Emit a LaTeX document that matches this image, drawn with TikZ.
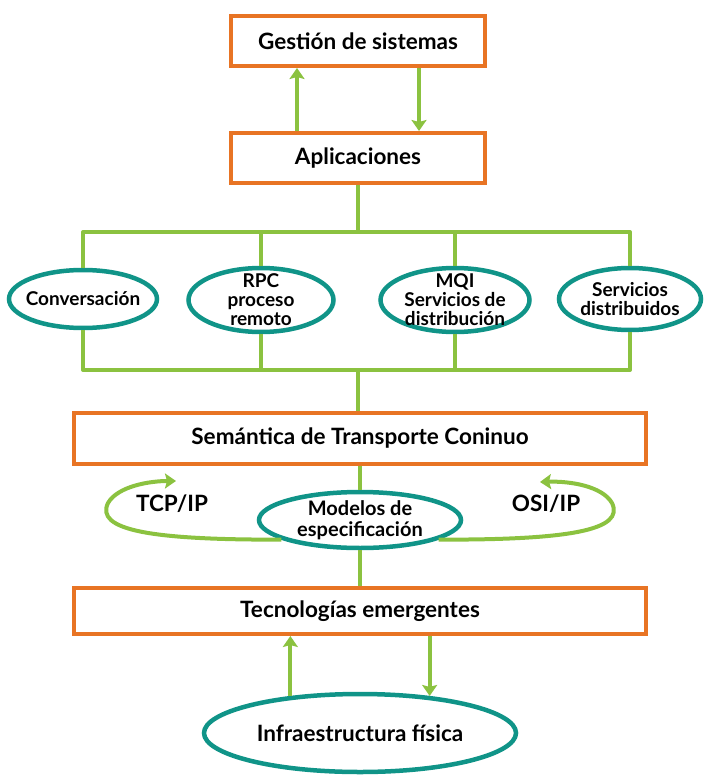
\documentclass[tikz,border=0pt]{standalone}
\usepackage{fontspec}
\setmainfont{Lato}
\definecolor{boxorange}{RGB}{232, 116, 36}
\definecolor{linkgreen}{RGB}{139, 194, 64}
\definecolor{ovalteal}{RGB}{16, 148, 136}
\usetikzlibrary{shapes.geometric, arrows.meta}

\tikzset{
  bigfont/.style={font=\fontsize{22.5}{26}\selectfont\bfseries},
  layer/.style={draw=boxorange, line width=4pt, fill=white, minimum height=50pt, bigfont, inner sep=0pt},
  oval/.style={ellipse, draw=ovalteal, line width=4.5pt, fill=white, inner sep=-12pt, align=center, font=\fontsize{19}{19}\selectfont\bfseries},
  link/.style={draw=linkgreen, line width=4pt, line join=round},
  flow/.style={link, -{Stealth[length=11pt, width=15pt, inset=2pt]}},
}

\begin{document}
\begin{tikzpicture}[x=1pt, y=-1pt]
  \useasboundingbox (0,0) rectangle (703,775);

  % Top layers
  \node[layer, minimum width=254pt] (gestion) at (358, 41) {Gestión de sistemas};
  \node[layer, minimum width=254pt] (aplic) at (358, 158) {Aplicaciones};

  \draw[flow] ([xshift=-61pt]aplic.north) -- ([xshift=-61pt]gestion.south);
  \draw[flow] ([xshift=61pt]gestion.south) -- ([xshift=61pt]aplic.north);

  % Middleware services
  \node[oval, minimum width=148pt, minimum height=58pt] (conv) at (83, 299) {Conversación};
  \node[oval, minimum width=145pt, minimum height=64pt] (rpc) at (261, 300) {RPC\\proceso\\remoto};
  \node[oval, minimum width=149pt, minimum height=64pt] (mqi) at (455, 300) {MQI\\Servicios de\\distribución};
  \node[oval, minimum width=142pt, minimum height=62pt] (serv) at (630, 299) {Servicios\\distribuidos};

  \coordinate (bustop) at (358, 232);
  \coordinate (busbot) at (358, 370);

  \draw[link] (aplic.south) -- (bustop);
  \draw[link] (conv.north) |- (serv.north |- bustop) -- (serv.north);
  \draw[link] (rpc.north) -- (rpc.north |- bustop);
  \draw[link] (mqi.north) -- (mqi.north |- bustop);

  \draw[link] (conv.south) |- (serv.south |- busbot) -- (serv.south);
  \draw[link] (rpc.south) -- (rpc.south |- busbot);
  \draw[link] (mqi.south) -- (mqi.south |- busbot);

  % Transport layer
  \node[layer, minimum width=572pt, minimum height=51pt] (seman) at (360, 438) {Semántica de Transporte Coninuo};
  \draw[link] (busbot) -- (busbot |- seman.north);

  \node[oval, minimum width=202pt, minimum height=56pt, font=\fontsize{20}{21}\selectfont\bfseries] (modelos) at (360, 520) {Modelos de\\especificación};
  \draw[link] (seman.south) -- (modelos.north);

  % Protocol loops
  \coordinate (tcpend) at (176, 481);
  \coordinate (osiend) at (540, 482);
  \draw[flow] (modelos.194) .. controls (150, 540) and (95, 530) .. (108, 503)
    .. controls (118, 486) and (150, 481) .. (tcpend);
  \draw[flow] (modelos.-14) .. controls (570, 540) and (625, 530) .. (612, 503)
    .. controls (602, 486) and (570, 481) .. (osiend);
  \node[bigfont] (tcp) at (172, 504) {TCP/IP};
  \node[bigfont] (osi) at (546, 504) {OSI/IP};

  % Bottom layers
  \node[layer, minimum width=572pt, minimum height=46pt] (tecno) at (360, 611) {Tecnologías emergentes};
  \draw[link] (modelos.south) -- (tecno.north);

  \node[oval, minimum width=312pt, minimum height=78pt, bigfont] (infra) at (360, 733) {Infraestructura física};

  \draw[flow] (infra.152) -- (infra.152 |- tecno.south);
  \draw[flow] (tecno.south -| infra.28) -- (infra.28);
\end{tikzpicture}
\end{document}
